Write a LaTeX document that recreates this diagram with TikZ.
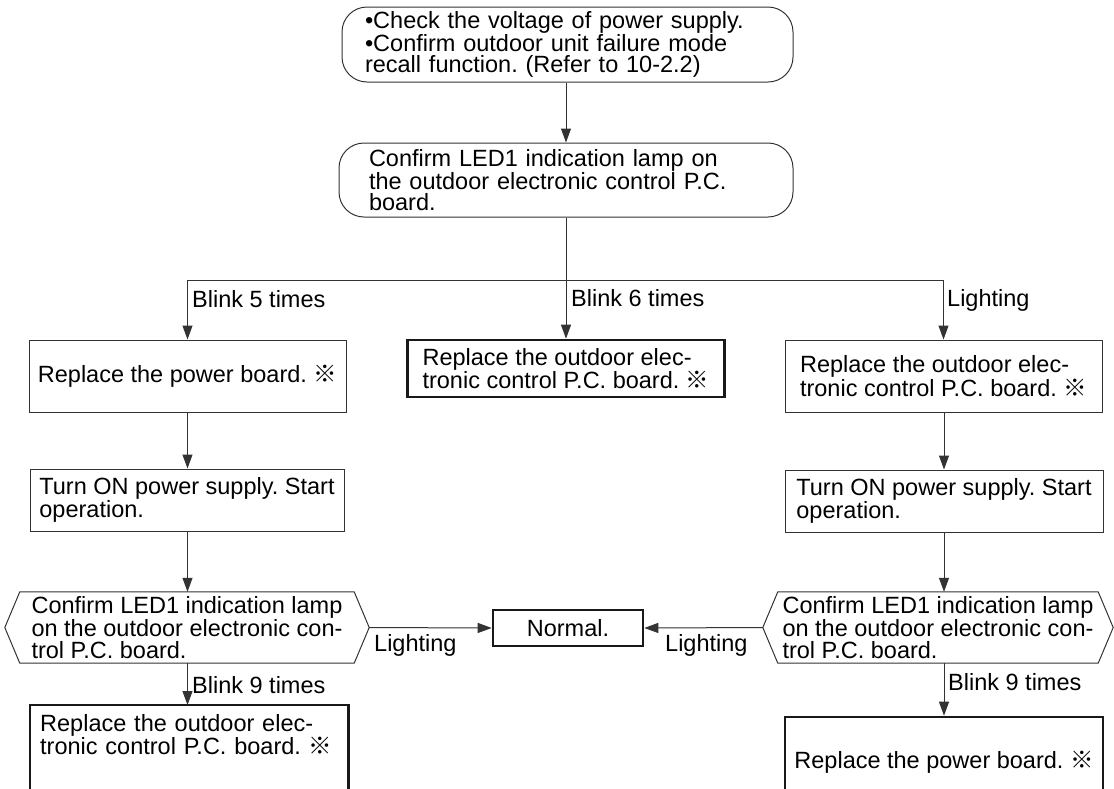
\documentclass[tikz,border=0pt]{standalone}
\usepackage{fontspec}
\setmainfont{Liberation Sans}
\newfontfamily\cjkf{Noto Sans CJK JP}
\usetikzlibrary{arrows.meta}
\frenchspacing
\newcommand\fsz{\fontsize{23.5pt}{21.7pt}\selectfont}
\newcommand\refmark{{\cjkf ※}}
\tikzset{
  thinline/.style={draw=black!80, line width=1pt},
  conn/.style={thinline, -{Triangle[length=14pt,width=10pt]}},
  thinbox/.style={thinline, rectangle, inner sep=0pt, align=left, font=\fsz},
  thickbox/.style={draw=black!90, line width=2.6pt, rectangle, inner sep=0pt, align=left, font=\fsz},
  roundbox/.style={thinline, rectangle, rounded corners=25pt, align=left, font=\fsz, inner ysep=0pt},
  hexbox/.style={rectangle, inner sep=0pt, align=left, font=\fsz},
  lbl/.style={inner sep=0pt, font=\fsz, anchor=base west},
}
\begin{document}
\begin{tikzpicture}[x=1pt,y=-1pt]
\useasboundingbox (0,0) rectangle (1114,788);
\clip (0,0) rectangle (1114,788);
% boxes
\node[roundbox, minimum width=451pt, minimum height=75pt, text width=405pt, inner xsep=23pt] (top) at (567.5,44.5)
  {•Check the voltage of power supply.\\•Confirm outdoor unit failure mode\\recall function. (Refer to 10-2.2)};
\node[roundbox, minimum width=454pt, minimum height=74pt, text width=394pt, inner xsep=30pt] (c) at (566,180)
  {Confirm LED1 indication lamp on\\the outdoor electronic control P.C.\\board.};
\coordinate (j) at (566,280);
\node[thinbox, minimum width=317pt, minimum height=72pt] (r1l) at (187.5,376)
  {Replace the power board. \refmark};
\node[thickbox, minimum width=317pt, minimum height=57pt] (r1m) at (566,368.5)
  {Replace the outdoor elec-\\tronic control P.C. board. \refmark};
\node[thinbox, minimum width=317pt, minimum height=72pt] (r1r) at (943.5,376)
  {Replace the outdoor elec-\\tronic control P.C. board. \refmark};
\node[thinbox, minimum width=314pt, minimum height=62pt] (tl) at (187,500)
  {Turn ON power supply. Start\\operation.};
\node[thinbox, minimum width=318pt, minimum height=62pt] (tr) at (944,501)
  {Turn ON power supply. Start\\operation.};
\node[hexbox, minimum width=364pt, minimum height=71pt] (hxl) at (187,627.5)
  {Confirm LED1 indication lamp\\on the outdoor electronic con-\\trol P.C. board.};
\node[hexbox, minimum width=350pt, minimum height=71pt] (hxr) at (938,627.5)
  {Confirm LED1 indication lamp\\on the outdoor electronic con-\\trol P.C. board.};
\draw[thinline] ([xshift=15pt]hxl.north west) -- ([xshift=-15pt]hxl.north east) -- (hxl.east)
  -- ([xshift=-15pt]hxl.south east) -- ([xshift=15pt]hxl.south west) -- (hxl.west) -- cycle;
\draw[thinline] ([xshift=15pt]hxr.north west) -- ([xshift=-15pt]hxr.north east) -- (hxr.east)
  -- ([xshift=-15pt]hxr.south east) -- ([xshift=15pt]hxr.south west) -- (hxr.west) -- cycle;
\node[thickbox, minimum width=150pt, minimum height=36pt, align=center] (nm) at (568,628) {Normal.};
\node[hexbox, anchor=north west, text width=298pt, inner xsep=10pt, inner ysep=9pt] (bl) at (30,705)
  {Replace the outdoor elec-\\tronic control P.C. board. \refmark};
\draw[draw=black!90, line width=2.6pt] (bl.north west) rectangle ([yshift=-80pt]bl.south east);
\node[thickbox, minimum width=318pt, minimum height=90pt] (br) at (944,762)
  {Replace the power board. \refmark};
% connectors
\draw[conn] (top.south -| c.north) -- (c.north);
\draw[thinline] (c.south) -- (j);
\draw[conn] (j) -| (r1l.north);
\draw[conn] (j) -- (r1m.north);
\draw[conn] (j) -| (r1r.north);
\draw[conn] (r1l.south) -- (tl.north -| r1l.south);
\draw[conn] (r1r.south -| tr.north) -- (tr.north);
\draw[conn] (tl.south -| r1l.south) -- (hxl.north -| r1l.south);
\draw[conn] (tr.south) -- (hxr.north -| tr.south);
\draw[conn] (hxl.east) -- (nm.west);
\draw[conn] (hxr.west) -- (nm.east);
\draw[conn] (hxl.south -| r1l.south) -- (bl.north -| r1l.south);
\draw[conn] (hxr.south -| tr.south) -- (br.north -| tr.south);
% labels
\node[lbl] (lb5) at (192,307) {Blink 5 times};
\node[lbl] (lb6) at (571,306) {Blink 6 times};
\node[lbl] (llt) at (947,306) {Lighting};
\node[lbl] (lL) at (374,651) {Lighting};
\node[lbl] (lR) at (665,651) {Lighting};
\node[lbl] (lb9l) at (192,693) {Blink 9 times};
\node[lbl] (lb9r) at (948,690) {Blink 9 times};
\end{tikzpicture}
\end{document}
